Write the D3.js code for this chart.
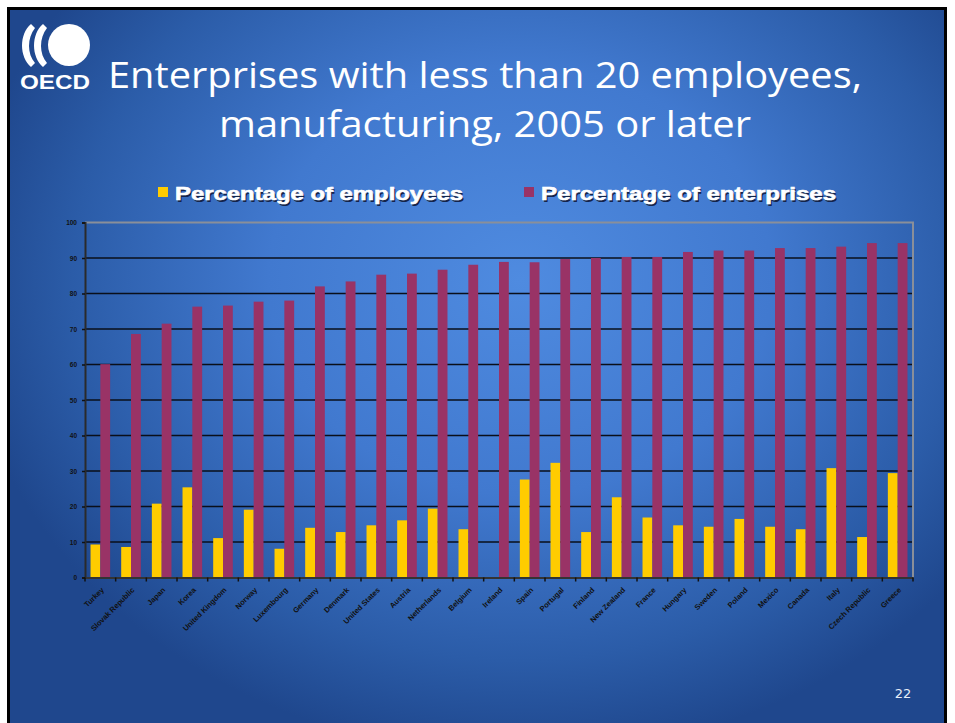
<!DOCTYPE html>
<html>
<head>
<meta charset="utf-8">
<script src="https://d3js.org/d3.v7.min.js"></script>
<style>
  html, body { margin: 0; padding: 0; background: #fff; }
  svg { display: block; }
  .title { font-family: "Open Sans", sans-serif; fill: #fff; }
  .legend-text { font-family: "Liberation Sans", Arial, sans-serif; font-weight: bold; }
  .tick-label { font-family: "Liberation Sans", Arial, sans-serif; font-weight: bold; fill: #111; }
</style>
</head>
<body>
<div id="chart"></div>
<script>
// Chart data
const countries = ["Turkey", "Slovak Republic", "Japan", "Korea", "United Kingdom", "Norway",
    "Luxembourg", "Germany", "Denmark", "United States", "Austria", "Netherlands", "Belgium",
    "Ireland", "Spain", "Portugal", "Finland", "New Zealand", "France", "Hungary", "Sweden",
    "Poland", "Mexico", "Canada", "Italy", "Czech Republic", "Greece"];
const employees = [9.3, 8.6, 20.8, 25.4, 11.1, 19.1, 8.1, 14.0, 12.8, 14.7, 16.1, 19.4, 13.6,
    null, 27.6, 32.3, 12.8, 22.6, 16.9, 14.7, 14.3, 16.5, 14.3, 13.6, 30.8, 11.4, 29.4];
const enterprises = [60.1, 68.6, 71.5, 76.3, 76.6, 77.7, 78.0, 82.0, 83.4, 85.3, 85.6, 86.7, 88.1,
    88.9, 88.8, 89.7, 90.0, 90.3, 90.3, 91.7, 92.1, 92.1, 92.8, 92.8, 93.2, 94.2, 94.2];
const seriesNames = ["Percentage of employees", "Percentage of enterprises"];
const seriesColors = ["#ffcc00", "#993366"];
const yTicks = [0, 10, 20, 30, 40, 50, 60, 70, 80, 90, 100];

const width = 955, height = 723;

// Plot area
const plot = { left: 85, right: 913, top: 222.5, bottom: 577.5 };

const svg = d3.select("#chart")
    .append("svg")
    .attr("width", width)
    .attr("height", height);

// Slide background
const defs = svg.append("defs");
const grad = defs.append("radialGradient")
    .attr("id", "bg")
    .attr("gradientUnits", "userSpaceOnUse")
    .attr("cx", 520).attr("cy", 280).attr("r", 560)
    .attr("gradientTransform", "translate(520,280) scale(1,0.85) translate(-520,-280)");
grad.append("stop").attr("offset", 0).attr("stop-color", "#4f8be0");
grad.append("stop").attr("offset", 0.45).attr("stop-color", "#4179cf");
grad.append("stop").attr("offset", 0.8).attr("stop-color", "#2b5ca8");
grad.append("stop").attr("offset", 1).attr("stop-color", "#1f478d");

svg.append("rect")
    .attr("x", 8.5).attr("y", 8.5)
    .attr("width", 937).attr("height", 730)
    .attr("fill", "url(#bg)")
    .attr("stroke", "#000")
    .attr("stroke-width", 3);

// OECD logo
const logo = svg.append("g").attr("fill", "#fff");
logo.append("circle").attr("cx", 69).attr("cy", 45).attr("r", 21);
logo.append("path")
    .attr("d", "M31,24 C19,34 19,57 31,67 L35,63 C27,54 27,38 35,28 Z");
logo.append("path")
    .attr("d", "M43,24 C31,34 31,57 43,67 L47,63 C39,54 39,38 47,28 Z");
logo.append("text")
    .attr("x", 55).attr("y", 89)
    .attr("text-anchor", "middle")
    .attr("font-family", "Liberation Sans, Arial, sans-serif")
    .attr("font-weight", "bold")
    .attr("font-size", 20)
    .attr("textLength", 70)
    .attr("lengthAdjust", "spacingAndGlyphs")
    .text("OECD");

// Title (two lines)
const titleLines = ["Enterprises with less than 20 employees,", "manufacturing, 2005 or later"];
const titleW = [754, 532];
titleLines.forEach((line, i) => {
    svg.append("text")
        .attr("class", "title")
        .attr("x", 485).attr("y", 88 + i * 49)
        .attr("text-anchor", "middle")
        .attr("font-size", 36)
        .attr("textLength", titleW[i])
        .attr("lengthAdjust", "spacingAndGlyphs")
        .text(line);
});

// Legend
const legendX = [158, 524];
const legendW = [288, 295];
seriesNames.forEach((name, i) => {
    svg.append("rect")
        .attr("x", legendX[i]).attr("y", 187)
        .attr("width", 10).attr("height", 10)
        .attr("fill", seriesColors[i]);
    svg.append("text")
        .attr("class", "legend-text")
        .attr("x", legendX[i] + 18.5).attr("y", 201.5)
        .attr("font-size", 18)
        .attr("fill", "#14244a")
        .attr("textLength", legendW[i])
        .attr("lengthAdjust", "spacingAndGlyphs")
        .text(name);
    svg.append("text")
        .attr("class", "legend-text")
        .attr("x", legendX[i] + 17).attr("y", 200)
        .attr("font-size", 18)
        .attr("fill", "#fff")
        .attr("stroke", "#fff")
        .attr("stroke-width", 0.6)
        .attr("textLength", legendW[i])
        .attr("lengthAdjust", "spacingAndGlyphs")
        .text(name);
});

// Scales
const x0 = d3.scaleBand()
    .domain(countries)
    .range([plot.left, plot.right])
    .paddingInner(0.36)
    .paddingOuter(0.18);
const x1 = d3.scaleBand()
    .domain([0, 1])
    .range([0, x0.bandwidth()]);
const y = d3.scaleLinear()
    .domain([0, 100])
    .range([plot.bottom, plot.top]);

// Gridlines
svg.append("g")
    .selectAll("line")
    .data(yTicks.filter(t => t > 0 && t < 100))
    .enter().append("line")
    .attr("x1", plot.left).attr("x2", plot.right)
    .attr("y1", d => y(d)).attr("y2", d => y(d))
    .attr("stroke", "#0a0f1a")
    .attr("stroke-width", 1.6);

// Plot border (top and right)
svg.append("path")
    .attr("d", `M${plot.left},${y(100)} H${plot.right} V${plot.bottom}`)
    .attr("fill", "none")
    .attr("stroke", "#8a8f99")
    .attr("stroke-width", 2);

// Bars
const rows = countries.map((c, i) => ({ country: c, values: [employees[i], enterprises[i]] }));
const groups = svg.append("g")
    .selectAll("g")
    .data(rows)
    .enter().append("g")
    .attr("transform", d => `translate(${x0(d.country)},0)`);
groups.selectAll("rect")
    .data(d => d.values.map((v, k) => ({ k, v })).filter(e => e.v != null))
    .enter().append("rect")
    .attr("x", d => x1(d.k))
    .attr("y", d => y(d.v))
    .attr("width", x1.bandwidth())
    .attr("height", d => y(0) - y(d.v))
    .attr("fill", d => seriesColors[d.k]);

// Y axis
const yAxis = svg.append("g")
    .attr("transform", `translate(${plot.left},0)`)
    .call(d3.axisLeft(y).tickValues(yTicks).tickSize(3).tickPadding(5));
yAxis.select(".domain").attr("stroke", "#2a2a2a").attr("stroke-width", 2);
yAxis.selectAll(".tick line").attr("stroke", "#111").attr("stroke-width", 1.5);
yAxis.selectAll(".tick text")
    .attr("class", "tick-label")
    .attr("font-size", 6.5)
    .attr("fill", "#111");

// X axis
const xAxis = svg.append("g")
    .attr("transform", `translate(0,${plot.bottom})`)
    .call(d3.axisBottom(x0).tickSize(0).tickFormat(""));
xAxis.select(".domain").attr("stroke", "#333").attr("stroke-width", 2);
xAxis.selectAll(".tick").remove();

// category boundary ticks
const step = x0.step();
svg.append("g")
    .selectAll("line")
    .data(d3.range(countries.length + 1))
    .enter().append("line")
    .attr("x1", i => plot.left + i * step).attr("x2", i => plot.left + i * step)
    .attr("y1", plot.bottom).attr("y2", plot.bottom + 4)
    .attr("stroke", "#111")
    .attr("stroke-width", 1.5);

// Rotated country labels
svg.append("g")
    .selectAll("text")
    .data(countries)
    .enter().append("text")
    .attr("class", "tick-label")
    .attr("font-size", 7.5)
    .attr("text-anchor", "end")
    .attr("transform", d => `translate(${x0(d) + x0.bandwidth() / 2 + 4},${plot.bottom + 13}) rotate(-45)`)
    .text(d => d);

// Slide number
svg.append("text")
    .attr("x", 903).attr("y", 698)
    .attr("text-anchor", "middle")
    .attr("font-family", "DejaVu Sans, sans-serif")
    .attr("font-size", 13)
    .attr("fill", "#e8eef8")
    .text("22");
</script>
</body>
</html>
